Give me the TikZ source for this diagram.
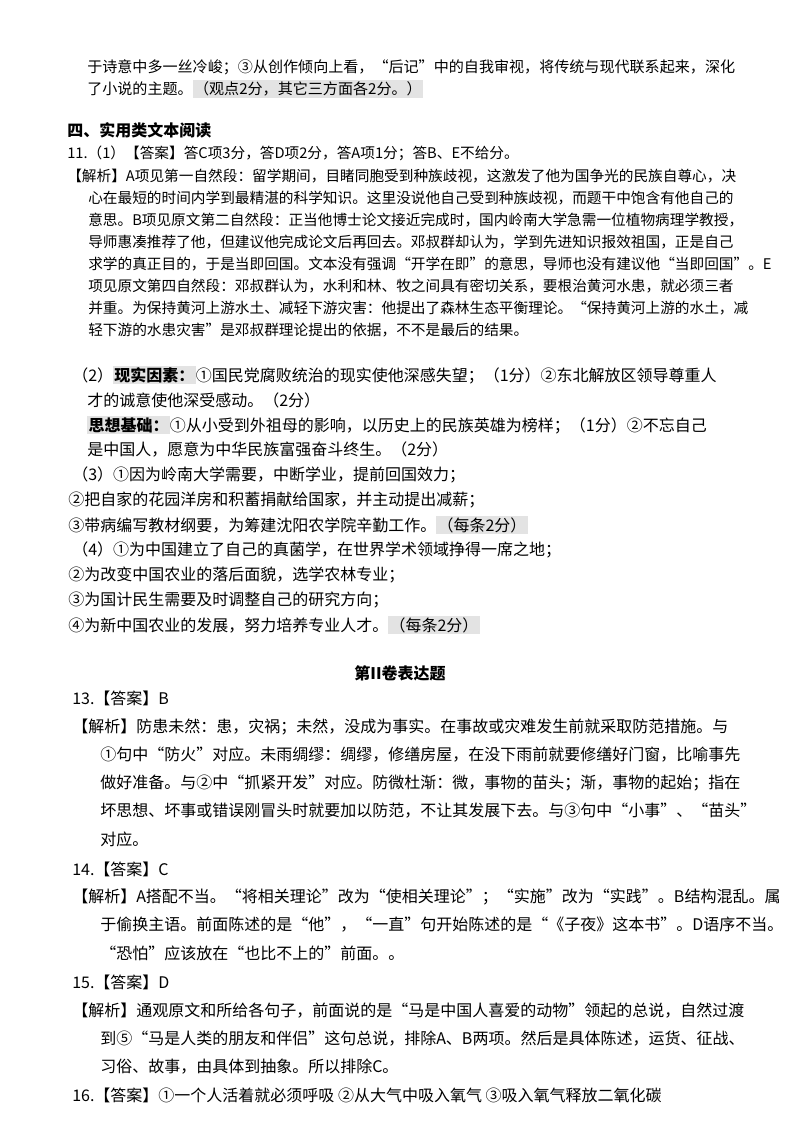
\documentclass[tikz,border=0pt]{standalone}
\usepackage{fontspec}
\setmainfont{Noto Sans CJK SC}
\begin{document}
\begin{tikzpicture}[x=0.75pt,y=-0.75pt,
  t/.style={anchor=west,inner sep=0pt,font=\fontsize{12}{14}\selectfont},
  m/.style={anchor=west,inner sep=0pt,font=\fontsize{11.3}{13}\selectfont},
  s/.style={anchor=west,inner sep=0pt,font=\fontsize{11}{12}\selectfont}]
\useasboundingbox[fill=white] (0,0) rectangle (800,1132);
\newcommand{\hl}[1]{{\setlength{\fboxsep}{1pt}\colorbox{gray!22}{#1}}}
\node[m] (l1) at (87,67) {于诗意中多一丝冷峻；③从创作倾向上看，“后记”中的自我审视，将传统与现代联系起来，深化};
\node[m] (l2) at (87,89) {了小说的主题。\hl{（观点2分，其它三方面各2分。）}};
\node[m,font=\fontsize{12}{14}\selectfont\bfseries] (l3) at (67,130) {四、实用类文本阅读};
\node[s] (a1) at (67,153) {11.（1）【答案】答C项3分，答D项2分，答A项1分；答B、E不给分。};
\node[s] (a2) at (67,176) {【解析】A项见第一自然段：留学期间，目睹同胞受到种族歧视，这激发了他为国争光的民族自尊心，决};
\node[s] (a3) at (88,198) {心在最短的时间内学到最精湛的科学知识。这里没说他自己受到种族歧视，而题干中饱含有他自己的};
\node[s] (a4) at (88,220) {意思。B项见原文第二自然段：正当他博士论文接近完成时，国内岭南大学急需一位植物病理学教授，};
\node[s] (a5) at (88,242) {导师惠凑推荐了他，但建议他完成论文后再回去。邓叔群却认为，学到先进知识报效祖国，正是自己};
\node[s] (a6) at (88,264) {求学的真正目的，于是当即回国。文本没有强调“开学在即”的意思，导师也没有建议他“当即回国”。E};
\node[s] (a7) at (88,286) {项见原文第四自然段：邓叔群认为，水利和林、牧之间具有密切关系，要根治黄河水患，就必须三者};
\node[s] (a8) at (88,308) {并重。为保持黄河上游水土、减轻下游灾害：他提出了森林生态平衡理论。“保持黄河上游的水土，减};
\node[s] (a9) at (88,330) {轻下游的水患灾害”是邓叔群理论提出的依据，不不是最后的结果。};
\node[t] (b1) at (72,375) {（2）\hl{\bfseries 现实因素：}①国民党腐败统治的现实使他深感失望；（1分）②东北解放区领导尊重人};
\node[t] (b2) at (87,400) {才的诚意使他深受感动。（2分）};
\node[t] (b3) at (87,425) {\hl{\bfseries 思想基础：}①从小受到外祖母的影响，以历史上的民族英雄为榜样；（1分）②不忘自己};
\node[t] (b4) at (87,450) {是中国人，愿意为中华民族富强奋斗终生。（2分）};
\node[t] (c1) at (72,475) {（3）①因为岭南大学需要，中断学业，提前回国效力；};
\node[t] (c2) at (68,500) {②把自家的花园洋房和积蓄捐献给国家，并主动提出减薪；};
\node[t] (c3) at (68,525) {③带病编写教材纲要，为筹建沈阳农学院辛勤工作。\hl{（每条2分）}};
\node[t] (d1) at (72,550) {（4）①为中国建立了自己的真菌学，在世界学术领域挣得一席之地；};
\node[t] (d2) at (68,575) {②为改变中国农业的落后面貌，选学农林专业；};
\node[t] (d3) at (68,600) {③为国计民生需要及时调整自己的研究方向；};
\node[t] (d4) at (68,625) {④为新中国农业的发展，努力培养专业人才。\hl{（每条2分）}};
\node[t,anchor=center,font=\fontsize{12}{14}\selectfont\bfseries] (e0) at (400,673) {第II卷表达题};
\node[t] (e1) at (72,698) {13.【答案】B};
\node[t] (e2) at (72,727) {【解析】防患未然：患，灾祸；未然，没成为事实。在事故或灾难发生前就采取防范措施。与};
\node[t] (e3) at (100,755) {①句中“防火”对应。未雨绸缪：绸缪，修缮房屋，在没下雨前就要修缮好门窗，比喻事先};
\node[t] (e4) at (100,783) {做好准备。与②中“抓紧开发”对应。防微杜渐：微，事物的苗头；渐，事物的起始；指在};
\node[t] (e5) at (100,811) {坏思想、坏事或错误刚冒头时就要加以防范，不让其发展下去。与③句中“小事”、“苗头”};
\node[t] (e6) at (100,839) {对应。};
\node[t] (f1) at (72,869) {14.【答案】C};
\node[t] (f2) at (72,897) {【解析】A搭配不当。“将相关理论”改为“使相关理论”；“实施”改为“实践”。B结构混乱。属};
\node[t] (f3) at (100,925) {于偷换主语。前面陈述的是“他”，“一直”句开始陈述的是“《子夜》这本书”。D语序不当。};
\node[t] (f4) at (100,953) {“恐怕”应该放在“也比不上的”前面。。};
\node[t] (g1) at (72,982) {15.【答案】D};
\node[t] (g2) at (72,1011) {【解析】通观原文和所给各句子，前面说的是“马是中国人喜爱的动物”领起的总说，自然过渡};
\node[t] (g3) at (100,1039) {到⑤“马是人类的朋友和伴侣”这句总说，排除A、B两项。然后是具体陈述，运货、征战、};
\node[t] (g4) at (100,1067) {习俗、故事，由具体到抽象。所以排除C。};
\node[t] (h1) at (72,1095) {16.【答案】①一个人活着就必须呼吸 ②从大气中吸入氧气 ③吸入氧气释放二氧化碳};
\end{tikzpicture}
\end{document}
